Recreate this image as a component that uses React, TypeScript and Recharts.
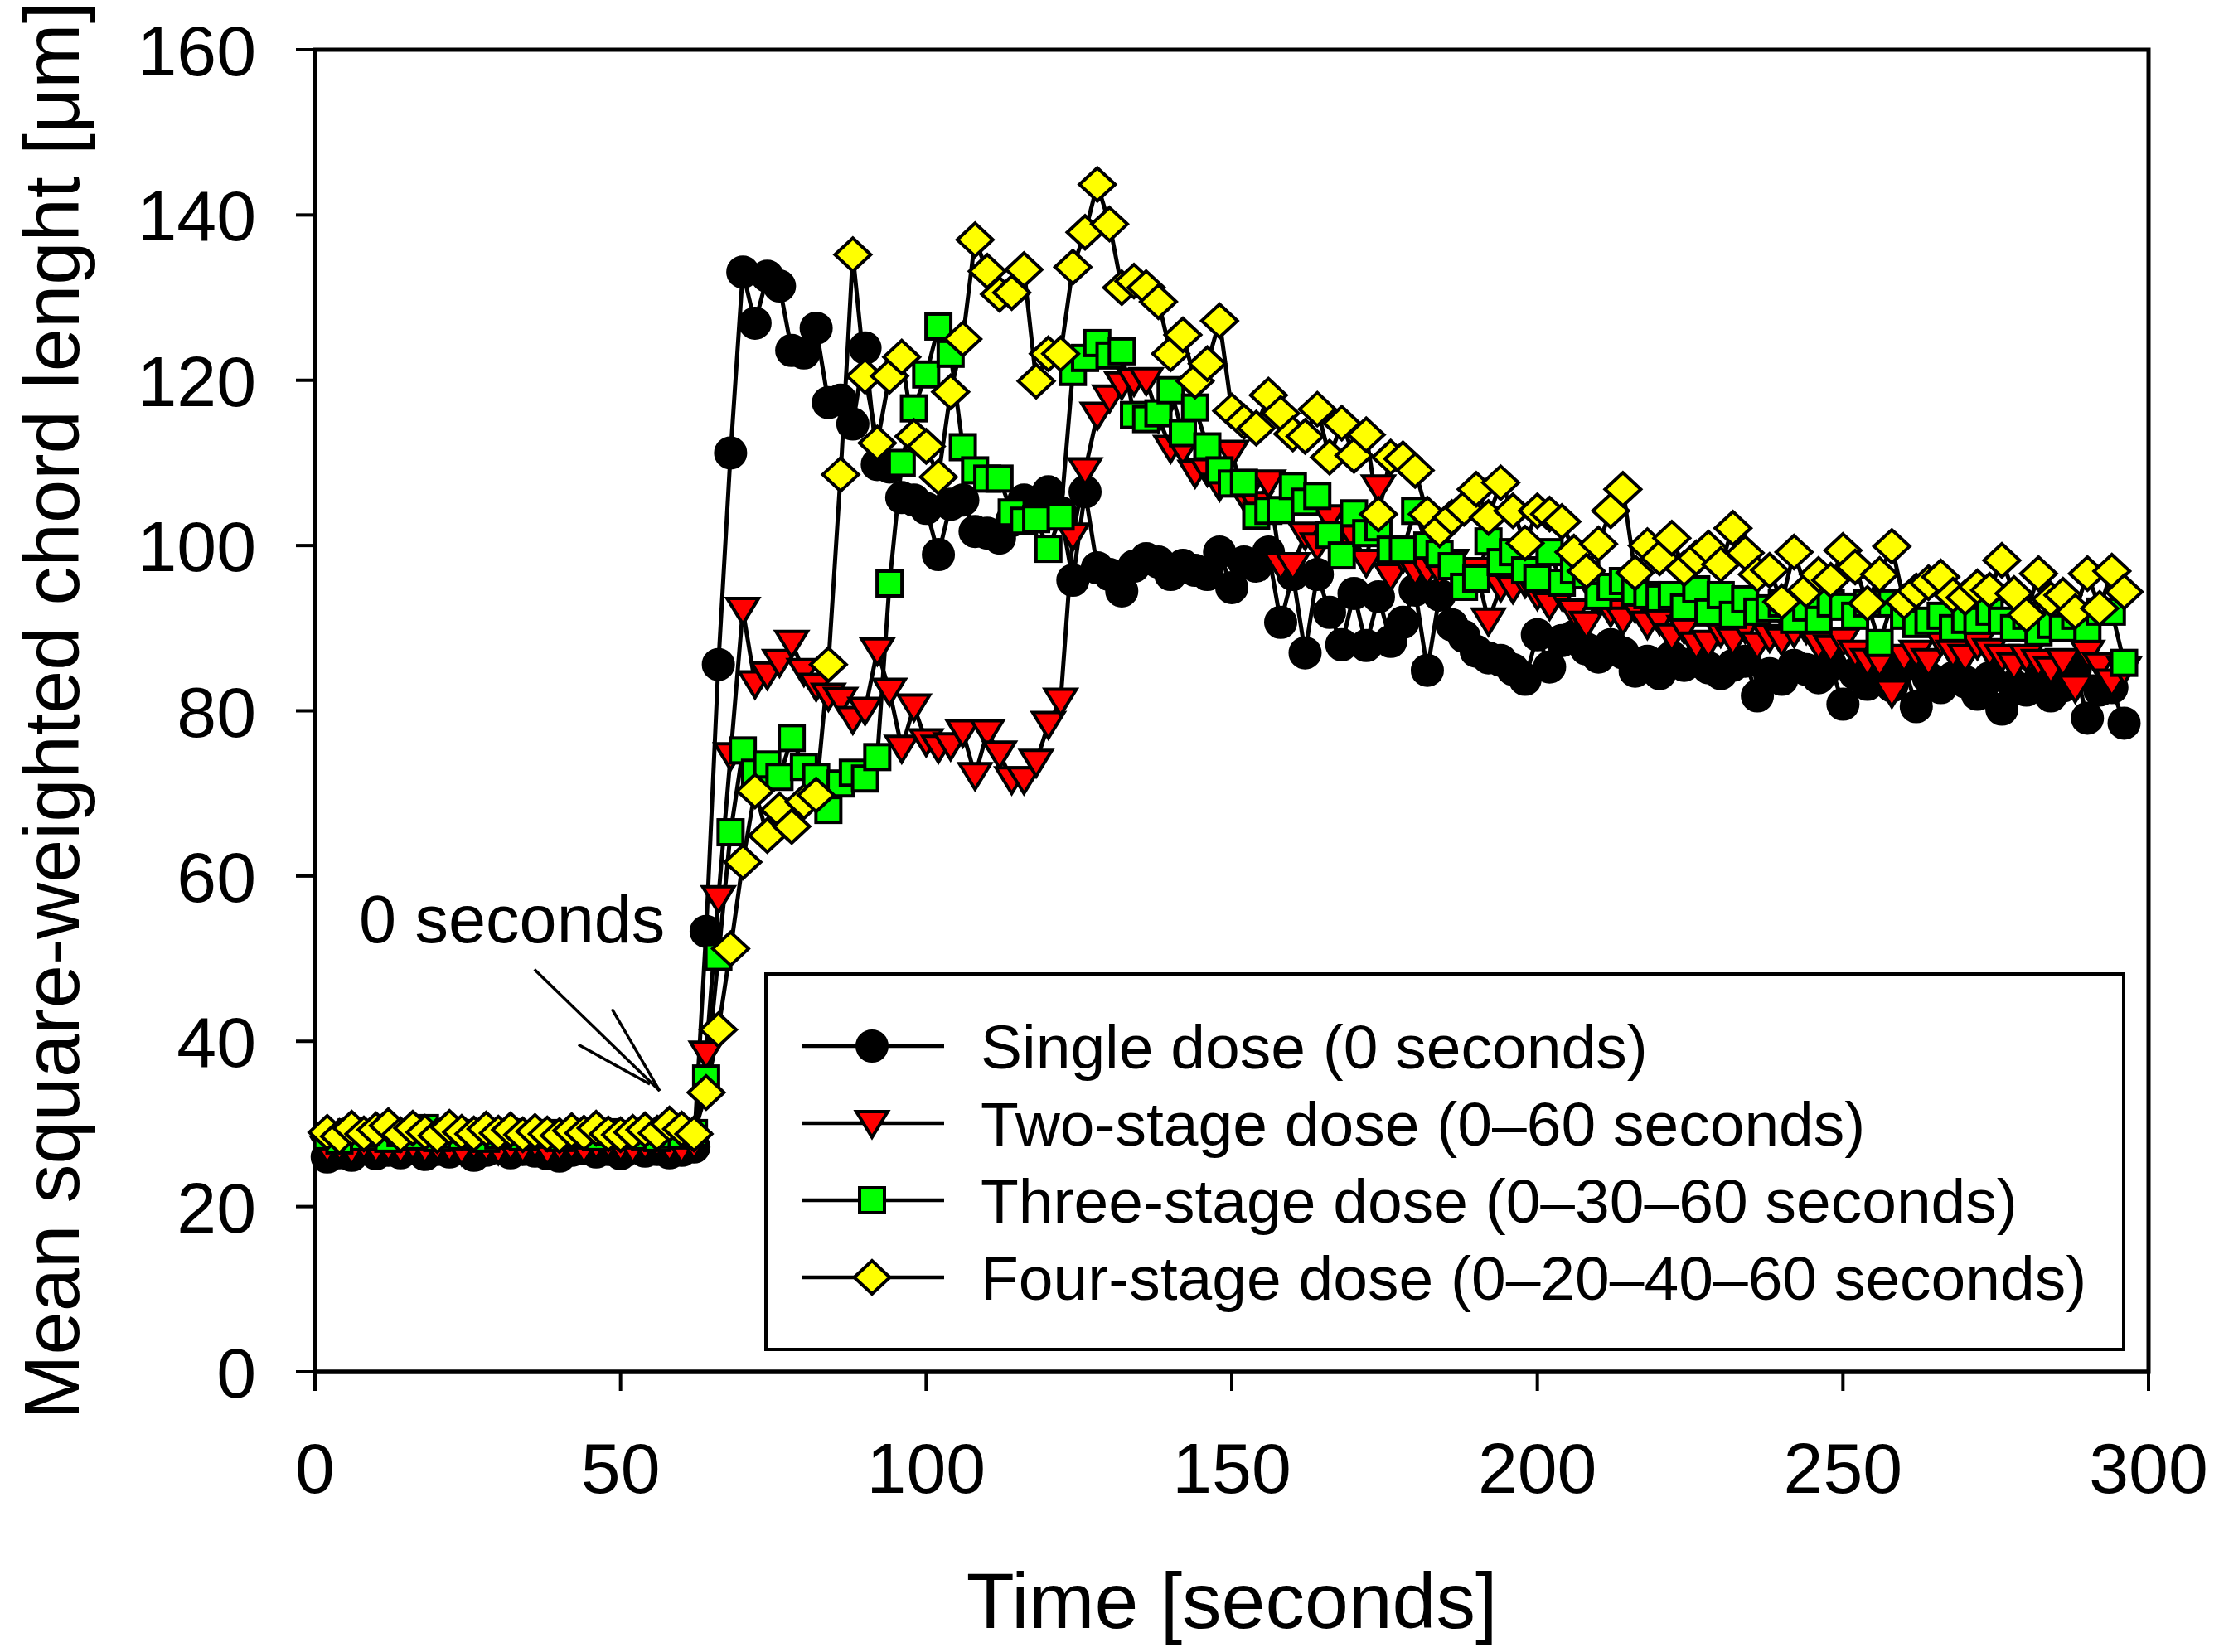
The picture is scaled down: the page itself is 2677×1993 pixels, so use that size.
import React from "react";
import { LineChart, Line, XAxis, YAxis, ReferenceArea, ReferenceLine, Legend } from "recharts";

// sampling times [s]
const time = [
  2, 4, 6, 8, 10, 12, 14, 16, 18, 20, 22, 24, 26, 28, 30, 32, 34, 36, 38, 40,
  42, 44, 46, 48, 50, 52, 54, 56, 58, 60, 62, 64, 66, 68, 70, 72, 74, 76, 78, 80,
  82, 84, 86, 88, 90, 92, 94, 96, 98, 100, 102, 104, 106, 108, 110, 112, 114, 116, 118, 120,
  122, 124, 126, 128, 130, 132, 134, 136, 138, 140, 142, 144, 146, 148, 150, 152, 154, 156, 158, 160,
  162, 164, 166, 168, 170, 172, 174, 176, 178, 180, 182, 184, 186, 188, 190, 192, 194, 196, 198, 200,
  202, 204, 206, 208, 210, 212, 214, 216, 218, 220, 222, 224, 226, 228, 230, 232, 234, 236, 238, 240,
  242, 244, 246, 248, 250, 252, 254, 256, 258, 260, 262, 264, 266, 268, 270, 272, 274, 276, 278, 280,
  282, 284, 286, 288, 290, 292, 294, 296,
];

const singleDose = [
  26.0, 26.5, 26.2, 27.0, 26.4, 26.8, 26.5, 27.2, 26.3, 26.9, 26.6, 27.0, 26.2, 26.8, 27.1, 26.5,
  26.9, 26.7, 26.4, 26.1, 26.8, 27.0, 26.6, 26.9, 26.4, 27.1, 26.7, 26.9, 26.5, 26.8, 27.2,
  53.3, 85.6, 111.2, 133.1, 126.9, 132.6, 131.4, 123.6, 123.3, 126.3, 117.3, 117.6, 114.7, 123.9, 109.8,
  109.5, 105.8, 105.5, 104.5, 98.9, 105, 105.5, 101.7, 101.5, 100.9, 103, 105.5, 103.5, 106.5, 104,
  95.8, 106.5, 97.3, 96.5, 94.5, 97.5,
  98.4, 98, 96.5, 97.6, 97, 96.5, 99.2, 94.9, 98, 97.5, 99.2, 90.7, 96.5, 87, 96.5, 91.9, 88, 94.2,
  87.9, 93.8, 88.4, 90.7, 94.6, 84.9, 94, 90.4, 89, 87.2, 86.4, 86.1, 85, 83.8, 89.2, 85.3,
  88.5, 89, 87.5, 86.5, 88, 87, 84.8, 86, 84.5, 86.5, 85.5, 86, 85.2, 84.5, 85.5, 86, 81.8, 84.5,
  83.8, 85.5, 85, 84, 85.5, 80.8, 84.5, 83.2, 84, 83, 85.5, 80.5, 84, 82.8, 84, 83.5, 82, 84, 80.2,
  83, 82.5, 83.5, 81.8, 83, 85, 79.1, 82.5, 82.8, 78.5,
];

const twoStageDose = [
  27, 27.3, 26.8, 27.5, 27, 27.2, 26.9, 27.4, 27, 27.3, 27.1, 26.8, 27.5, 27.2, 26.9, 27.3, 27,
  27.6, 26.8, 27.2, 27.4, 27, 27.5, 27.6, 27.2, 27, 27.4, 27.8, 27.2, 27, 27.5,
  38.5, 57.3, 74.6, 92.2, 83.3, 84.4, 85.9, 88.2, 84.8, 83, 81.8, 81.3, 79, 80.1, 87.3, 82.4, 75.5,
  80.5, 76.3, 75.5, 75.8, 77.4, 72.2, 77.4, 74.8, 71.7, 71.7, 73.8, 78.4, 81.2, 101.2, 109.1, 115.8,
  117.9, 119.5, 119.9,
  120, 115.5, 111.8, 111.6, 108.8, 109, 107.2, 111.2, 106, 105, 107.6, 97.6, 97.6, 101.3, 100, 103.4,
  100.9, 101, 98, 107, 96.3, 98.5, 96.9, 97, 96.9, 98, 96.5, 97, 90.9, 95, 94.8, 95.5, 94, 92.8,
  94, 92, 90.5, 93.5, 92, 91, 92.5, 90.5, 91, 89, 90, 88, 88.2, 89.5, 88.5, 90, 88, 88.9, 88.5, 89.5,
  89.9, 88, 87.6, 88.5, 87, 86, 85.9, 82.2, 86.5, 87, 86, 88.5, 87, 86.5, 88, 87.2, 86.5, 85.5, 86.5,
  85.9, 85, 86, 82.8, 87, 85.5, 83.5, 85,
];

const threeStageDose = [
  28.5, 28, 29, 28.4, 28.8, 28.2, 28.9, 28.5, 29.5, 28.3, 28.7, 28.5, 28.9, 28.2, 28.6, 29, 28.4,
  28.7, 28.9, 28.3, 28.6, 28.8, 28.4, 29, 28.6, 28.8, 28.5, 28.3, 28.7, 28.6, 28.9,
  35.5, 50.2, 65.3, 75.2, 72.5, 73.5, 72, 76.7, 73.2, 72, 68, 71.2, 72.5, 71.8, 74.4, 95.4,
  110, 116.6, 120.7, 126.5, 123.2, 111.9, 109.1, 108.1, 108.1, 104, 103, 103.2, 99.6, 103.5, 121,
  122.7, 124.5, 123, 123.5, 115.8, 115.3,
  116, 118.8, 113.6, 116.7, 112, 109.1, 107.5, 107.6, 103.6, 104.2, 104.3, 107.2, 105.3, 106, 101.3,
  98.8, 103.9, 101.5, 102.2, 99.5, 99.5, 104.2, 100, 99, 97.5, 95, 96, 100.5, 98, 99.2, 97, 96, 99.2,
  95.5, 97, 96.4, 93.9, 95, 95.7, 94.3, 94, 93.6, 94, 92.5, 94.7, 91.9, 94, 91.6, 93.5, 92, 92.4, 93,
  91, 92.5, 91, 93, 92.6, 91.5, 93, 88.2, 93, 91.5, 90.5, 90.9, 91.5, 90, 91, 90.9, 92, 90.9, 90,
  91.5, 89.5, 90.4, 90, 91.5, 89.9, 92, 92, 85.8,
];

const fourStageDose = [
  29, 28.5, 29.5, 28.8, 29.3, 29.8, 28.7, 29.5, 29, 28.6, 29.6, 29, 28.8, 29.4, 28.9, 29.3, 28.7,
  29.1, 28.8, 28.6, 29.2, 28.9, 29.5, 28.8, 28.7, 29, 29.3, 28.9, 30, 29.4, 28.8,
  33.8, 41.4, 51.2, 61.7, 70.3, 64.9, 68, 66, 69, 69.8, 85.6, 108.6, 135.2, 120.5, 112.4, 120.5, 122.8,
  113.2, 112, 108.3, 118.6, 125, 137, 133.2, 130.4, 130.6, 133.4, 119.9, 123.2, 123.2, 133.7, 137.9,
  143.7, 138.9, 131.2, 132,
  131.2, 129.5, 123.2, 125.5, 119.9, 122, 127.2, 116.3, 115, 114.2, 118.2, 116, 113.5, 113.2, 116.5,
  110.7, 114.8, 110.9, 113.4, 103.8, 110.7, 110.5, 109.1, 103.8, 101.9, 103.4, 104.5, 106.8, 103.4,
  107.6, 104.2, 100.3, 104.2, 103.8,
  102.9, 99.2, 96.9, 100.2, 104.2, 106.8, 96.7, 100, 98.5, 100.9, 97.2, 98.5, 99.7, 97.7, 102.1, 99.1,
  96.5, 97, 93.2, 99.2, 94.6, 96.5, 95.8, 99.4, 97.4, 93, 96.5, 99.9, 93.2, 94.5, 95.5, 96.2, 94, 93.7,
  95, 94.6, 98.2, 94.2, 91.6, 96.6, 93.5, 94, 92, 96.6, 92.4, 96.9, 94.4,
];

const xTicks = [0, 50, 100, 150, 200, 250, 300];
const yTicks = [0, 20, 40, 60, 80, 100, 120, 140, 160];

const rows = time.map((t, i) => ({
  t,
  single: singleDose[i],
  two: twoStageDose[i],
  three: threeStageDose[i],
  four: fourStageDose[i],
}));

const FONT = '"Liberation Sans", Arial, sans-serif';

type MarkProps = { cx: number; cy: number };

const CircleMark = ({ cx, cy }: MarkProps) => (
  <circle cx={cx} cy={cy} r={18.5} fill="#000" stroke="#000" strokeWidth={3} />
);

const TriangleMark = ({ cx, cy }: MarkProps) => (
  <path
    d={`M${cx - 19},${cy - 14} L${cx + 19},${cy - 14} L${cx},${cy + 17} Z`}
    fill="#ff0000"
    stroke="#000"
    strokeWidth={4}
  />
);

const SquareMark = ({ cx, cy }: MarkProps) => (
  <rect x={cx - 15} y={cy - 15} width={30} height={30} fill="#00ff00" stroke="#000" strokeWidth={4} />
);

const DiamondMark = ({ cx, cy }: MarkProps) => (
  <path
    d={`M${cx},${cy - 20} L${cx + 21.5},${cy} L${cx},${cy + 20} L${cx - 21.5},${cy} Z`}
    fill="#ffff00"
    stroke="#000"
    strokeWidth={4}
  />
);

const series = [
  { key: "single", name: "Single dose (0 seconds)", Mark: CircleMark },
  { key: "two", name: "Two-stage dose (0\u201360 seconds)", Mark: TriangleMark },
  { key: "three", name: "Three-stage dose (0\u201330\u201360 seconds)", Mark: SquareMark },
  { key: "four", name: "Four-stage dose (0\u201320\u201340\u201360 seconds)", Mark: DiamondMark },
];

const XTick = ({ x, y, payload }: any) => (
  <text x={x} y={y + 123} textAnchor="middle" fontSize={86} fontFamily={FONT} fill="#000">
    {payload.value}
  </text>
);

const YTick = ({ x, y, payload }: any) => (
  <text x={x - 48} y={y + 31} textAnchor="end" fontSize={86} fontFamily={FONT} fill="#000">
    {payload.value}
  </text>
);

const LegendBox = () => (
  <svg width={1642} height={457} style={{ display: "block" }}>
    <rect x={2} y={2} width={1638} height={453} fill="#fff" stroke="#000" strokeWidth={4} />
    {series.map((s, i) => {
      const y = 89 + i * 93;
      const Mark = s.Mark;
      return (
        <g key={s.key}>
          <line x1={45} x2={217} y1={y} y2={y} stroke="#000" strokeWidth={4.5} />
          <Mark cx={130} cy={y} />
          <text x={261} y={y + 27} fontSize={75} fontFamily={FONT} fill="#000">
            {s.name}
          </text>
        </g>
      );
    })}
  </svg>
);

export default function App() {
  return (
    <div style={{ position: "absolute", left: 0, top: 0, width: 2677, height: 1993, background: "#fff" }}>
      <LineChart width={2677} height={1993} data={rows} margin={{ top: 60, right: 85, bottom: 0, left: 0 }}>
        <ReferenceArea x1={0} x2={300} y1={0} y2={160} fill="none" stroke="#000" strokeWidth={5} />
        <XAxis
          type="number"
          dataKey="t"
          domain={[0, 300]}
          ticks={xTicks}
          height={338}
          tickSize={23}
          tickMargin={0}
          tick={<XTick />}
          axisLine={{ stroke: "#000", strokeWidth: 5 }}
          tickLine={{ stroke: "#000", strokeWidth: 4 }}
          label={{
            value: "Time [seconds]",
            position: "insideBottom",
            offset: 29,
            fontSize: 95,
            fontFamily: FONT,
            fill: "#000",
          }}
        />
        <YAxis
          type="number"
          domain={[0, 160]}
          ticks={yTicks}
          width={380}
          tickSize={23}
          tickMargin={0}
          tick={<YTick />}
          axisLine={{ stroke: "#000", strokeWidth: 5 }}
          tickLine={{ stroke: "#000", strokeWidth: 4 }}
          label={{
            value: "Mean square-weighted chord lenght [\u03bcm]",
            angle: -90,
            position: "insideLeft",
            offset: 62,
            fontSize: 94,
            fontFamily: FONT,
            fill: "#000",
            style: { textAnchor: "middle" },
          }}
        />
        <ReferenceLine segment={[{ x: 35.9, y: 48.7 }, { x: 56.4, y: 34.0 }]} stroke="#000" strokeWidth={3.5} />
        <ReferenceLine segment={[{ x: 48.6, y: 43.9 }, { x: 56.4, y: 34.0 }]} stroke="#000" strokeWidth={3.5} />
        <ReferenceLine segment={[{ x: 43.1, y: 39.6 }, { x: 54.8, y: 34.8 }]} stroke="#000" strokeWidth={3.5} />
        {series.map((s) => (
          <Line
            key={s.key}
            type="linear"
            dataKey={s.key}
            name={s.name}
            stroke="#000"
            strokeWidth={5}
            isAnimationActive={false}
            activeDot={false}
            dot={(p: any) => <s.Mark key={`${s.key}-${p.index}`} cx={p.cx} cy={p.cy} />}
          />
        ))}
        <Legend
          layout="vertical"
          align="center"
          verticalAlign="middle"
          content={<LegendBox />}
          wrapperStyle={{ position: "absolute", left: 922, top: 1173, width: 1642, height: 457 }}
        />
      </LineChart>
      <svg
        width={2677}
        height={1993}
        style={{ position: "absolute", left: 0, top: 0, pointerEvents: "none" }}
      >
        <text x={433} y={1137} fontSize={81} fontFamily={FONT} fill="#000">
          0 seconds
        </text>
      </svg>
    </div>
  );
}
